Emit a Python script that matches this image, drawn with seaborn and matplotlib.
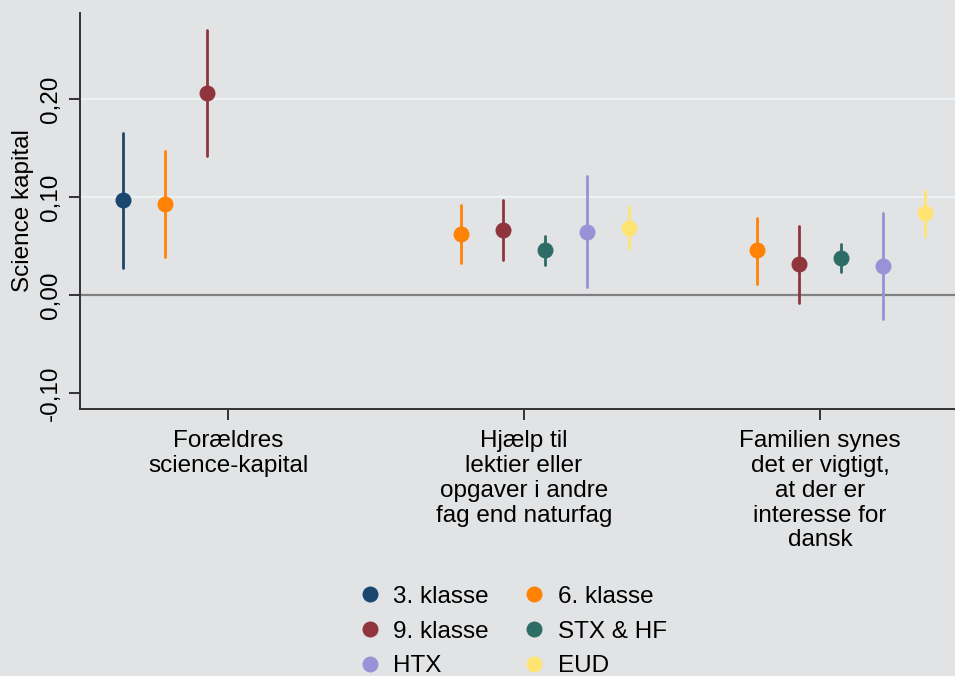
import numpy as np
import pandas as pd
import matplotlib
matplotlib.use("Agg")
import matplotlib.pyplot as plt
from matplotlib.lines import Line2D
import seaborn as sns

categories = ["Forældres\nscience-kapital",
              "Hjælp til\nlektier eller\nopgaver i andre\nfag end naturfag",
              "Familien synes\ndet er vigtigt,\nat der er\ninteresse for\ndansk"]
series = ["3. klasse", "6. klasse", "9. klasse", "STX & HF", "HTX", "EUD"]
colors = ["#1a476f", "#ff8205", "#90353b", "#2d6d66", "#9a91d6", "#ffe373"]

# estimates and confidence bounds per series (NaN = not shown)
est_3kl = [0.097, np.nan, np.nan]
lo_3kl = [0.028, np.nan, np.nan]
hi_3kl = [0.166, np.nan, np.nan]
est_6kl = [0.093, 0.063, 0.046]
lo_6kl = [0.039, 0.033, 0.012]
hi_6kl = [0.147, 0.092, 0.079]
est_9kl = [0.206, 0.067, 0.032]
lo_9kl = [0.142, 0.036, -0.008]
hi_9kl = [0.271, 0.097, 0.071]
est_stx = [np.nan, 0.046, 0.038]
lo_stx = [np.nan, 0.031, 0.024]
hi_stx = [np.nan, 0.060, 0.052]
est_htx = [np.nan, 0.065, 0.030]
lo_htx = [np.nan, 0.008, -0.024]
hi_htx = [np.nan, 0.122, 0.084]
est_eud = [np.nan, 0.069, 0.084]
lo_eud = [np.nan, 0.047, 0.060]
hi_eud = [np.nan, 0.091, 0.106]

yticks = [-0.10, 0.00, 0.10, 0.20]
ytick_labels = ["-0,10", "0,00", "0,10", "0,20"]

data = {
    "3. klasse": (est_3kl, lo_3kl, hi_3kl),
    "6. klasse": (est_6kl, lo_6kl, hi_6kl),
    "9. klasse": (est_9kl, lo_9kl, hi_9kl),
    "STX & HF": (est_stx, lo_stx, hi_stx),
    "HTX": (est_htx, lo_htx, hi_htx),
    "EUD": (est_eud, lo_eud, hi_eud),
}
rows = []
for s in series:
    est, lo, hi = data[s]
    for c, e, l, h in zip(categories, est, lo, hi):
        if np.isnan(e):
            continue
        for v in (l, e, h):
            rows.append({"cat": c, "series": s, "value": v})
df = pd.DataFrame(rows)

bg = "#e2e3e5"
sns.set_theme(style="white")
plt.rcParams["font.family"] = ["Liberation Sans", "DejaVu Sans"]
plt.rcParams["text.color"] = "black"
plt.rcParams["axes.labelcolor"] = "black"

FS = 17.5
fig = plt.figure(figsize=(9.55, 6.76), dpi=100, facecolor=bg)
ax = fig.add_axes([80 / 955, 1 - 409 / 676, 888 / 955, (409 - 13) / 676])
ax.set_facecolor(bg)

for yv in [0.10, 0.20]:
    ax.axhline(yv, color="#eaf2f3", lw=1.6, zorder=0)
ax.axhline(0.0, color="#808080", lw=1.6, zorder=0)

sns.pointplot(data=df, x="cat", y="value", hue="series", order=categories,
              hue_order=series, palette=colors, estimator="median",
              errorbar=("pi", 100), dodge=0.71, linestyle="none",
              markers="o", markersize=11.5, markeredgewidth=0,
              err_kws={"linewidth": 2.0}, legend=False, ax=ax)

ax.set_xlim(-0.5, 2.5)
ax.set_ylim(-0.116, 0.288)
ax.set_yticks(yticks)
ax.set_yticklabels(ytick_labels, rotation=90, va="center", fontsize=FS)
ax.set_xticks(range(len(categories)))
ax.set_xticklabels(categories, fontsize=FS, linespacing=1.17)
ax.set_xlabel("")
ax.set_ylabel("Science kapital", fontsize=FS, labelpad=4)
for s in ["top", "right"]:
    ax.spines[s].set_visible(False)
for s in ["left", "bottom"]:
    ax.spines[s].set_color("#333333")
    ax.spines[s].set_linewidth(1.4)
ax.tick_params(axis="both", which="major", direction="out", length=8,
               width=1.4, color="#333333", labelcolor="black", pad=5,
               bottom=True, left=True)
ax.tick_params(axis="x", pad=7)

handles = [Line2D([0], [0], marker="o", linestyle="none", markersize=11.5,
                  markeredgewidth=0, color=c, label=s)
           for s, c in zip(series, colors)]
order = [0, 2, 4, 1, 3, 5]
fig.legend([handles[i] for i in order], [series[i] for i in order],
           ncol=2, loc="upper left", bbox_to_anchor=(338 / 955, 1 - 564 / 676),
           frameon=False, fontsize=FS, handlelength=0.8, handletextpad=0.55,
           columnspacing=1.5, labelspacing=0.52, labelcolor="black")

fig.savefig("out.png", dpi=100, facecolor=bg)
